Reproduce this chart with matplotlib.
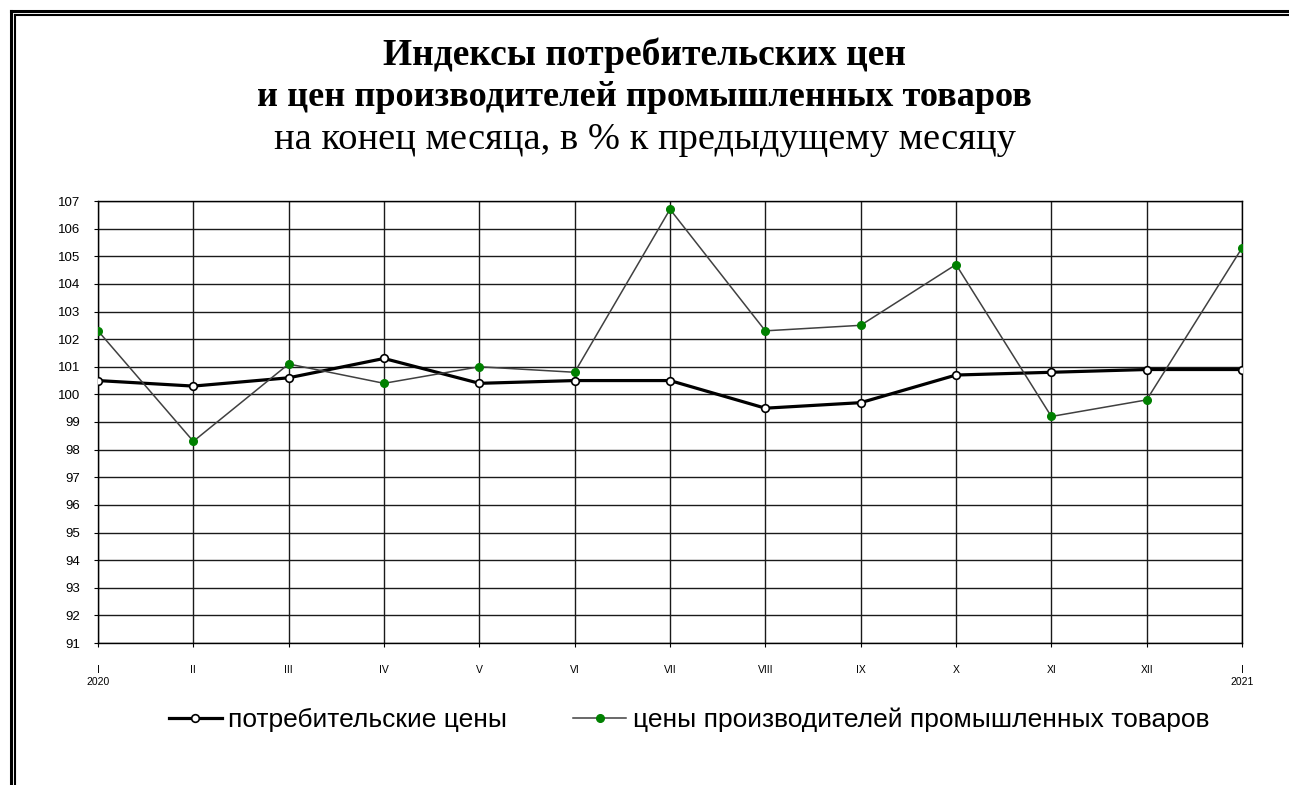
import numpy as np
import matplotlib
matplotlib.use("Agg")
import matplotlib.pyplot as plt
from matplotlib.lines import Line2D

months = ["I\n2020", "II", "III", "IV", "V", "VI", "VII", "VIII", "IX", "X", "XI", "XII", "I\n2021"]
cpi = [100.5, 100.3, 100.6, 101.3, 100.4, 100.5, 100.5, 99.5, 99.7, 100.7, 100.8, 100.9, 100.9]
ppi = [102.3, 98.3, 101.1, 100.4, 101.0, 100.8, 106.7, 102.3, 102.5, 104.7, 99.2, 99.8, 105.3]
y_ticks = list(range(91, 108))

title1 = "Индексы потребительских цен"
title2 = "и цен производителей промышленных товаров"
subtitle = "на конец месяца, в % к предыдущему месяцу"
label_cpi = "потребительские цены"
label_ppi = "цены производителей промышленных товаров"

plt.rcParams['font.family'] = ['Liberation Sans', 'DejaVu Sans']

fig = plt.figure(figsize=(12.89, 7.85), dpi=100)
W, H = 1289, 785

# double border on top and left
for pos, lw in [(11, 2.2), (14.5, 1.5)]:
    fig.add_artist(Line2D([pos / W, pos / W], [0, 1 - pos / H], color='black', lw=lw))
    fig.add_artist(Line2D([pos / W, 1], [1 - pos / H, 1 - pos / H], color='black', lw=lw))

fig.text(0.5, 1 - 55 / H, title1, ha='center', va='center', fontsize=27,
         fontweight='bold', family='Liberation Serif')
fig.text(0.5, 1 - 98 / H, title2, ha='center', va='center', fontsize=26.1,
         fontweight='bold', family='Liberation Serif')
fig.text(0.5, 1 - 140 / H, subtitle, ha='center', va='center', fontsize=27.7,
         family='Liberation Serif')

ax = fig.add_axes([98 / W, 1 - 643 / H, (1242 - 98) / W, (643 - 201) / H])
x = np.arange(len(months))

ax.plot(x, cpi, color='black', lw=2.3, marker='o', ms=5.5, mfc='white',
        mec='black', mew=1.2, label=label_cpi, zorder=3)
ax.plot(x, ppi, color='#404040', lw=1.1, marker='o', ms=5.5, mfc='#008000',
        mec='#008000', label=label_ppi, zorder=4)

ax.set_xlim(0, len(months) - 1)
ax.set_ylim(91, 107)
ax.set_yticks(y_ticks)
ax.set_yticklabels([str(v) for v in y_ticks], fontsize=9.5)
ax.set_xticks(x)
ax.set_xticklabels(months, fontsize=7.5, linespacing=1.25)
ax.tick_params(axis='both', direction='out', length=3, width=0.8, color='black')
ax.tick_params(axis='x', pad=13)
ax.tick_params(axis='y', pad=10)
ax.grid(True, color='#1a1a1a', lw=1.0)
ax.set_axisbelow(True)
for s in ax.spines.values():
    s.set_color('black')
    s.set_linewidth(1.0)

fig.legend(loc='center', bbox_to_anchor=(689 / W, 1 - 720 / H), ncol=2, frameon=False,
           fontsize=19, handlelength=2.0, handletextpad=0.25, columnspacing=2.5,
           numpoints=1)

fig.savefig("out.png", dpi=100)
